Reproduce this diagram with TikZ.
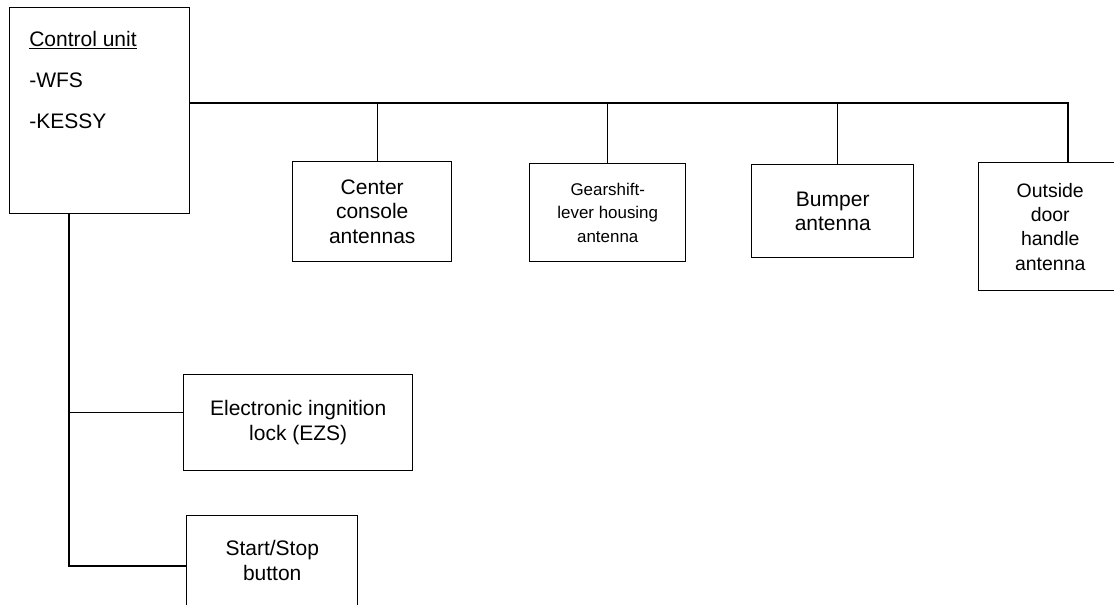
\documentclass[tikz,border=0pt]{standalone}
\usepackage{fontspec}
\setmainfont{Liberation Sans}
\tikzset{
  box/.style={draw, line width=1.1pt, rectangle, align=center, inner sep=0pt,
    anchor=north west, font=\fontsize{15.75}{18.5}\selectfont},
  link/.style={line width=1.1pt},
}
\begin{document}
\begin{tikzpicture}[x=0.75pt, y=-0.75pt]
\useasboundingbox (0,0) rectangle (1114,604);
% control unit
\node[box, minimum width=135pt, minimum height=154.5pt] (cu) at (9,7) {};
\node[anchor=north west, inner sep=0pt, align=left,
      font=\fontsize{15.75}{30.75}\selectfont] (cutext) at (29,31)
      {\underline{Control unit}\\-WFS\\-KESSY};
% antennas
\node[box, minimum width=119.25pt, minimum height=75pt] (center) at (292,161) {Center\\console\\antennas};
\node[box, minimum width=117pt, minimum height=73.5pt, font=\fontsize{12.7}{17.5}\selectfont] (gear) at (529,163) {Gearshift-\\lever housing\\antenna};
\node[box, minimum width=121.5pt, minimum height=69.75pt] (bumper) at (751,164) {Bumper\\antenna};
\node[box, minimum width=107.25pt, minimum height=96pt, font=\fontsize{14.6}{18.3}\selectfont] (outside) at (978,162) {Outside\\door\\handle\\antenna};
% lower boxes
\node[box, minimum width=171.75pt, minimum height=72pt] (ezs) at (183,374) {Electronic ingnition\\lock (EZS)};
\node[box, minimum width=128.25pt, minimum height=67.5pt] (ss) at (186,515) {Start/Stop\\button};
% bus
\coordinate (busend) at (1068,103);
\coordinate (trunk) at (69,566);
\draw[link] (cu.east |- busend) -- (busend) -- (busend |- outside.north);
\draw[link] ([xshift=3.75pt]center.north) -- ([xshift=3.75pt]center.north |- busend);
\draw[link] (gear.north) -- (gear.north |- busend);
\draw[link] ([xshift=3.75pt]bumper.north) -- ([xshift=3.75pt]bumper.north |- busend);
% trunk
\draw[link] (cu.south -| trunk) -- (trunk) -- (ss.west |- trunk);
\draw[link] ([yshift=7.5pt]ezs.west) -- ([yshift=7.5pt]ezs.west -| trunk);
\end{tikzpicture}
\end{document}
